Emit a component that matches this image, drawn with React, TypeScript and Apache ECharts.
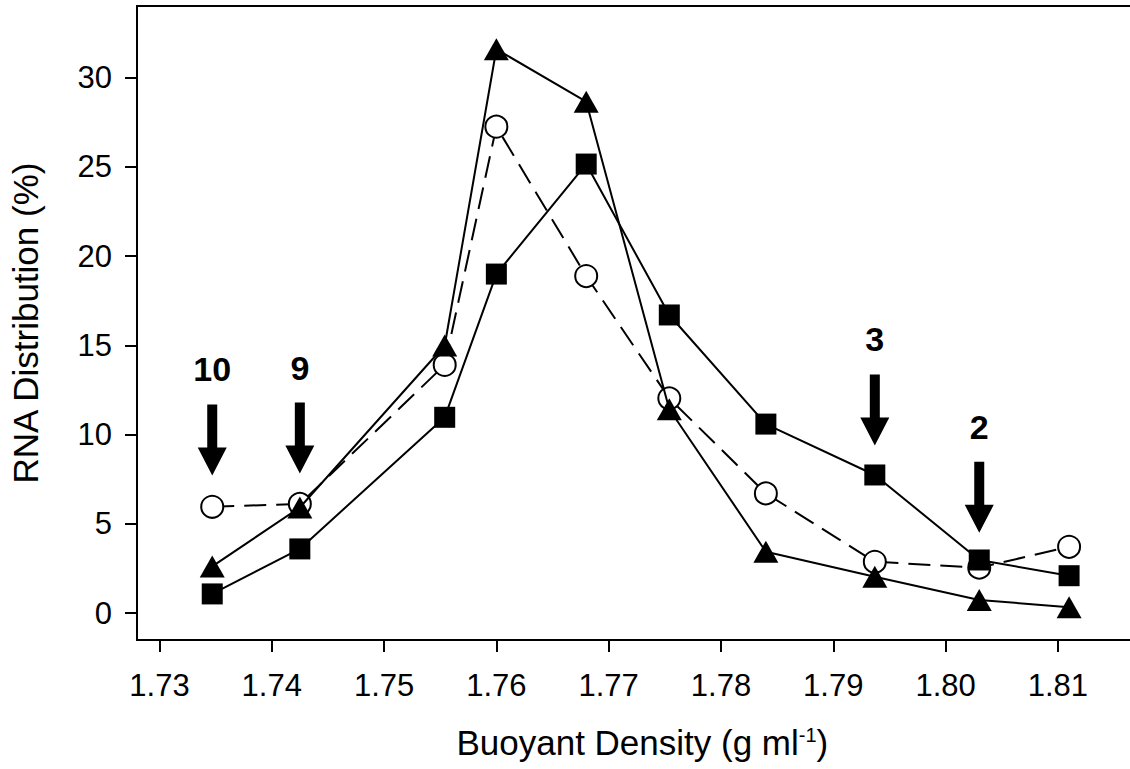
import React, { useEffect, useRef } from "react";
import * as echarts from "echarts";

// Buoyant density of each gradient fraction (g/ml)
const densities = [1.7347, 1.7425, 1.7554, 1.76, 1.768, 1.7754, 1.784, 1.7937, 1.803, 1.811];
// RNA distribution (%) per series
const openCircle = [5.96, 6.12, 13.9, 27.24, 18.88, 12.03, 6.71, 2.88, 2.55, 3.72];
const filledSquare = [1.08, 3.6, 10.97, 18.99, 25.15, 16.7, 10.59, 7.74, 2.98, 2.1];
const filledTriangle = [2.62, 5.92, 14.99, 31.58, 28.64, 11.42, 3.44, 2.04, 0.74, 0.34];

// Tick labels
const xTicks = [1.73, 1.74, 1.75, 1.76, 1.77, 1.78, 1.79, 1.8, 1.81];
const yTicks = [0, 5, 10, 15, 20, 25, 30];

// Fraction annotations (arrows)
const fractionLabels = ["10", "9", "3", "2"];
const fractionIndex = [0, 1, 7, 8];
const arrowCenterY = [9.7, 9.81, 11.38, 6.49];

const FONT = "'Liberation Sans', Arial, Helvetica, sans-serif";

export default function App() {
  const ref = useRef<HTMLDivElement>(null);

  useEffect(() => {
    document.body.style.margin = "0";
    const chart = echarts.init(ref.current as HTMLDivElement, null, { renderer: "svg" });

    const toPairs = (ys: number[]) => densities.map((x, i) => [x, ys[i]]);

    chart.setOption({
      animation: false,
      backgroundColor: "#ffffff",
      textStyle: { fontFamily: FONT, color: "#000" },
      grid: {
        left: 137,
        top: 6,
        right: -17.7,
        bottom: 129,
        containLabel: false,
        outerBoundsMode: "none",
        show: true,
        borderColor: "#000",
        borderWidth: 2,
        backgroundColor: "transparent",
      },
      xAxis: {
        type: "value",
        min: 1.728,
        max: 1.818,
        name: "Buoyant Density (g ml{sup|-1})",
        nameLocation: "middle",
        nameGap: 85,
        nameTextStyle: {
          fontSize: 35,
          fontFamily: FONT,
          color: "#000",
          rich: {
            sup: { fontSize: 20, verticalAlign: "top", fontFamily: FONT, color: "#000", lineHeight: 20 },
          },
        },
        axisLine: { show: true, onZero: false, lineStyle: { color: "#000", width: 2 } },
        axisTick: {
          show: true,
          length: 12,
          inside: false,
          customValues: xTicks,
          lineStyle: { color: "#000", width: 2 },
        },
        axisLabel: {
          show: true,
          customValues: xTicks,
          formatter: (v: number) => v.toFixed(2),
          fontSize: 31,
          fontFamily: FONT,
          color: "#000",
          margin: 30,
        },
        splitLine: { show: false },
      },
      yAxis: {
        type: "value",
        min: -1.5,
        max: 34,
        name: "RNA Distribution (%)",
        nameLocation: "middle",
        nameGap: 94,
        nameRotate: 90,
        nameTextStyle: { fontSize: 35, fontFamily: FONT, color: "#000" },
        axisLine: { show: true, onZero: false, lineStyle: { color: "#000", width: 2 } },
        axisTick: {
          show: true,
          length: 12,
          inside: false,
          customValues: yTicks,
          lineStyle: { color: "#000", width: 2 },
        },
        axisLabel: {
          show: true,
          customValues: yTicks,
          fontSize: 31,
          fontFamily: FONT,
          color: "#000",
          margin: 25,
        },
        splitLine: { show: false },
      },
      series: [
        {
          name: "open circles",
          type: "line",
          data: toPairs(openCircle),
          symbol: "circle",
          symbolSize: 22,
          itemStyle: { color: "#fff", borderColor: "#000", borderWidth: 2, opacity: 1 },
          lineStyle: { color: "#000", width: 2, type: [22, 10] },
          emphasis: { disabled: true },
          z: 2,
        },
        {
          name: "filled squares",
          type: "line",
          data: toPairs(filledSquare),
          symbol: "rect",
          symbolSize: 21,
          itemStyle: { color: "#000", opacity: 1 },
          lineStyle: { color: "#000", width: 2 },
          emphasis: { disabled: true },
          z: 3,
        },
        {
          name: "filled triangles",
          type: "line",
          data: toPairs(filledTriangle),
          symbol: "triangle",
          symbolSize: [25, 22],
          itemStyle: { color: "#000", opacity: 1 },
          lineStyle: { color: "#000", width: 2 },
          emphasis: { disabled: true },
          z: 4,
        },
        {
          name: "fractions",
          type: "scatter",
          data: fractionIndex.map((idx, i) => ({
            value: [densities[idx], arrowCenterY[i]],
            label: { formatter: fractionLabels[i] },
          })),
          symbol: "path://M9.5 0L19.5 0L19.5 43L29 43L14.5 71L0 43L9.5 43Z",
          symbolSize: [29, 71],
          itemStyle: { color: "#000", opacity: 1 },
          label: {
            show: true,
            position: "top",
            distance: 18,
            fontSize: 34,
            fontWeight: "bold",
            fontFamily: FONT,
            color: "#000",
            opacity: 1,
          },
          emphasis: { disabled: true },
          z: 5,
        },
      ],
    });

    return () => chart.dispose();
  }, []);

  return <div ref={ref} style={{ width: 1130, height: 769 }} />;
}
